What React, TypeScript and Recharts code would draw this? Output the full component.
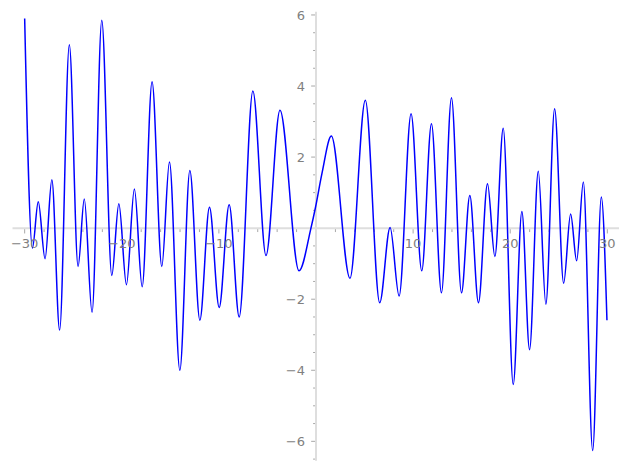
import * as React from "react";
import { LineChart, Line, XAxis, YAxis, ReferenceLine, ReferenceDot } from "recharts";

// curve samples (turning points)
const xs = [
  -30, -29.2, -28.6, -27.9, -27.2, -26.4, -25.4, -24.5, -23.86, -23.06, -22.06, -21.03, -20.3,
  -19.52, -18.7, -17.9, -16.88, -15.88, -15.09, -14.02, -12.99, -11.96, -10.97, -9.97, -8.94,
  -7.91, -6.5, -5.15, -3.71, -1.75, -0.52, -0.07, 0.62, 1.58, 3.5, 5.08, 6.56, 7.63, 8.56, 9.79,
  10.89, 11.89, 12.92, 13.95, 14.98, 15.84, 16.73, 17.66, 18.42, 19.28, 20.31, 21.2, 21.99,
  22.89, 23.67, 24.57, 25.5, 26.22, 26.84, 27.53, 28.49, 29.38, 29.96,
];
const ys = [
  5.9, -0.56, 0.74, -0.86, 1.36, -2.87, 5.16, -1.08, 0.82, -2.37, 5.85, -1.33, 0.69, -1.59,
  1.1, -1.65, 4.12, -1.08, 1.86, -4.0, 1.62, -2.59, 0.59, -2.23, 0.66, -2.5, 3.86, -0.77, 3.32,
  -1.2, 0.0, 0.56, 1.55, 2.59, -1.41, 3.6, -2.1, 0.02, -1.91, 3.22, -1.2, 2.94, -1.82, 3.67,
  -1.82, 0.92, -2.1, 1.25, -0.8, 2.81, -4.4, 0.47, -3.42, 1.6, -2.14, 3.36, -1.55, 0.4, -0.92,
  1.3, -6.26, 0.88, -2.59,
];

const xMajor = [-30, -20, -10, 10, 20, 30];
const yMajor = [-6, -4, -2, 2, 4, 6];

const data = xs.map((x, i) => ({ x, y: ys[i] }));

const xMinor: number[] = [];
for (let v = -30; v <= 30; v += 2) if (v !== 0 && v % 10 !== 0) xMinor.push(v);
const yMinor: number[] = [];
for (let v = -6.5; v <= 6; v += 0.5) if (v !== 0 && v % 2 !== 0) yMinor.push(v);

const AXIS = "#dedede";
const TICK = "#a8a8a8";
const TEXT = "#808080";
const fmt = (v: number) => (v < 0 ? "\u2212" + Math.abs(v) : String(v));

export default function App() {
  return (
    <div style={{ position: "absolute", left: 0, top: 0, fontFamily: "DejaVu Sans" }}>
      <LineChart
        width={627}
        height={469}
        data={data}
        margin={{ top: 7.85, right: 5.1, bottom: 6.35, left: 10.1 }}
      >
        <XAxis type="number" dataKey="x" domain={[-31.5, 31.5]} hide allowDataOverflow />
        <YAxis type="number" domain={[-6.6, 6.2]} hide allowDataOverflow />

        {/* axes through the origin */}
        <ReferenceLine segment={[{ x: -31.25, y: 0 }, { x: 31.2, y: 0 }]} stroke={AXIS} strokeWidth={2} />
        <ReferenceLine segment={[{ x: 0, y: 6.09 }, { x: 0, y: -6.55 }]} stroke={AXIS} strokeWidth={2} />

        {xMajor.map((v) => (
          <ReferenceLine key={"xt" + v} segment={[{ x: v, y: -0.03 }, { x: v, y: -0.15 }]} stroke={TICK} />
        ))}
        {xMinor.map((v) => (
          <ReferenceLine key={"xm" + v} segment={[{ x: v, y: -0.03 }, { x: v, y: -0.11 }]} stroke={TICK} />
        ))}
        {yMajor.map((v) => (
          <ReferenceLine key={"yt" + v} segment={[{ x: -0.1, y: v }, { x: -0.5, y: v }]} stroke={TICK} />
        ))}
        {yMinor.map((v) => (
          <ReferenceLine key={"ym" + v} segment={[{ x: -0.1, y: v }, { x: -0.3, y: v }]} stroke={TICK} />
        ))}

        {xMajor.map((v) => (
          <ReferenceDot
            key={"xl" + v}
            x={v}
            y={0}
            r={0}
            stroke="none"
            fill="none"
            label={{ value: fmt(v), position: "bottom", offset: 11, fill: TEXT, fontSize: 13 }}
          />
        ))}
        {yMajor.map((v) => (
          <ReferenceDot
            key={"yl" + v}
            x={0}
            y={v}
            r={0}
            stroke="none"
            fill="none"
            label={{ value: fmt(v), position: "left", offset: 11, fill: TEXT, fontSize: 13 }}
          />
        ))}

        <Line
          type="monotone"
          dataKey="y"
          stroke="#0000ff"
          strokeWidth={1.5}
          dot={false}
          isAnimationActive={false}
        />
      </LineChart>
    </div>
  );
}
